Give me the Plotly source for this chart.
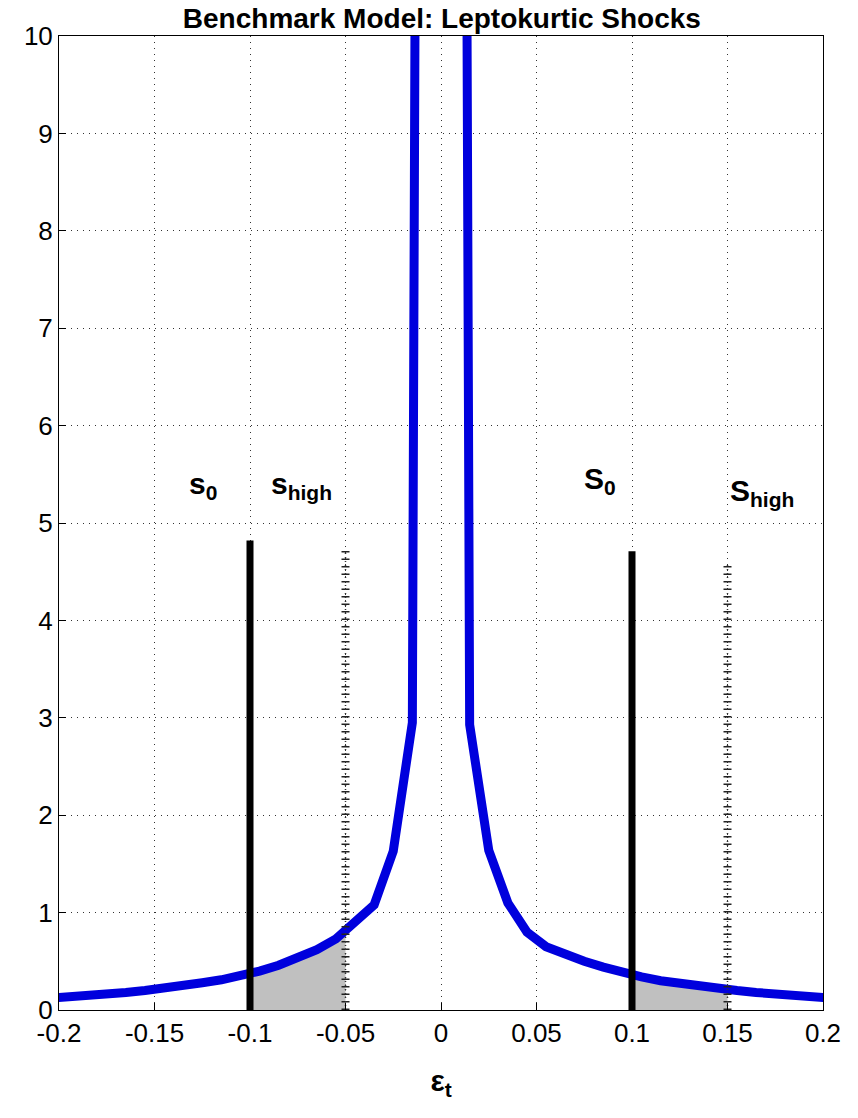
import numpy as np
import plotly.graph_objects as go

# density of shocks (bin midpoints)
eps = [-0.205, -0.195, -0.185, -0.175, -0.165, -0.155, -0.145, -0.135, -0.125, -0.115,
       -0.105, -0.095, -0.085, -0.075, -0.065, -0.055, -0.045, -0.035, -0.025, -0.015,
       -0.005, 0.005, 0.015, 0.025, 0.035, 0.045, 0.055, 0.065, 0.075, 0.085,
       0.095, 0.105, 0.115, 0.125, 0.135, 0.145, 0.155, 0.165, 0.175, 0.185,
       0.195, 0.205]
dens = [0.12, 0.13, 0.14, 0.16, 0.18, 0.20, 0.22, 0.25, 0.28, 0.31,
        0.35, 0.40, 0.46, 0.53, 0.62, 0.73, 0.92, 1.08, 1.63, 2.95,
        55.0, 55.0, 2.93, 1.64, 1.10, 0.80, 0.65, 0.57, 0.50, 0.44,
        0.38, 0.34, 0.30, 0.27, 0.25, 0.22, 0.20, 0.18, 0.16, 0.14,
        0.13, 0.12]

# thresholds
s0 = [-0.1, 0.1]
s0_top = [4.82, 4.71]
shigh = [-0.05, 0.15]
shigh_top = [4.72, 4.57]

labels = ["s<sub>0</sub>", "s<sub>high</sub>", "S<sub>0</sub>", "S<sub>high</sub>"]

font = "Liberation Sans, Arial, sans-serif"
eps_a = np.array(eps)
dens_a = np.array(dens)

fig = go.Figure()

# grey tail areas between s0 and s_high
for a, b in [(s0[0], shigh[0]), (s0[1], shigh[1])]:
    inner = (eps_a > a) & (eps_a < b)
    xs = np.concatenate([[a], eps_a[inner], [b]])
    ys = np.interp(xs, eps_a, dens_a)
    fig.add_trace(go.Scatter(x=xs, y=ys, mode="none", fill="tozeroy",
                             fillcolor="#c0c0c0", hoverinfo="skip", showlegend=False))

fig.add_trace(go.Scatter(x=eps, y=dens, mode="lines",
                         line=dict(color="#0000dd", width=9),
                         showlegend=False))

for x, top in zip(s0, s0_top):
    fig.add_trace(go.Scatter(x=[x, x], y=[-0.1, top], mode="lines",
                             line=dict(color="black", width=7), showlegend=False))

for x, top in zip(shigh, shigh_top):
    fig.add_trace(go.Scatter(x=[x, x], y=[0, top], mode="lines",
                             line=dict(color="#222222", width=8, dash="1.5px,6px"),
                             showlegend=False))
    fig.add_trace(go.Scatter(x=[x, x], y=[0, top], mode="lines",
                             line=dict(color="#333333", width=1.5, dash="1px,3px"),
                             showlegend=False))

lab_x = [-0.133, -0.090, 0.074, 0.150]
lab_y = [5.38, 5.39, 5.44, 5.31]
for t, x, y in zip(labels, lab_x, lab_y):
    fig.add_annotation(x=x, y=y, text="<b>%s</b>" % t, showarrow=False,
                       xanchor="left", yanchor="middle",
                       font=dict(family=font, size=30, color="black"))

axis = dict(showline=True, linecolor="black", linewidth=1, mirror=True,
            ticks="inside", ticklen=7, tickcolor="black",
            showgrid=True, gridcolor="#333333", gridwidth=1, griddash="1px,5px",
            zeroline=False, tickfont=dict(family=font, size=26, color="black"))

fig.update_layout(
    width=858, height=1118,
    paper_bgcolor="white", plot_bgcolor="white",
    margin=dict(l=59, r=35, t=36, b=108),
    title=dict(text="<b>Benchmark Model: Leptokurtic Shocks</b>",
               x=0.515, xanchor="center", y=0.984, yanchor="middle",
               font=dict(family=font, size=28, color="black")),
    xaxis=dict(range=[-0.2, 0.2], tickvals=[-0.2, -0.15, -0.1, -0.05, 0, 0.05, 0.1, 0.15, 0.2],
               ticktext=["-0.2", "-0.15", "-0.1", "-0.05", "0", "0.05", "0.1", "0.15", "0.2"],
               title=dict(text="<b>ε<sub>t</sub></b>", standoff=22,
                          font=dict(family=font, size=30, color="black")),
               **axis),
    yaxis=dict(range=[0, 10], dtick=1, **axis),
)

fig.write_html("out.html", config={"displayModeBar": False},
               post_script="document.body.style.margin='0';")
